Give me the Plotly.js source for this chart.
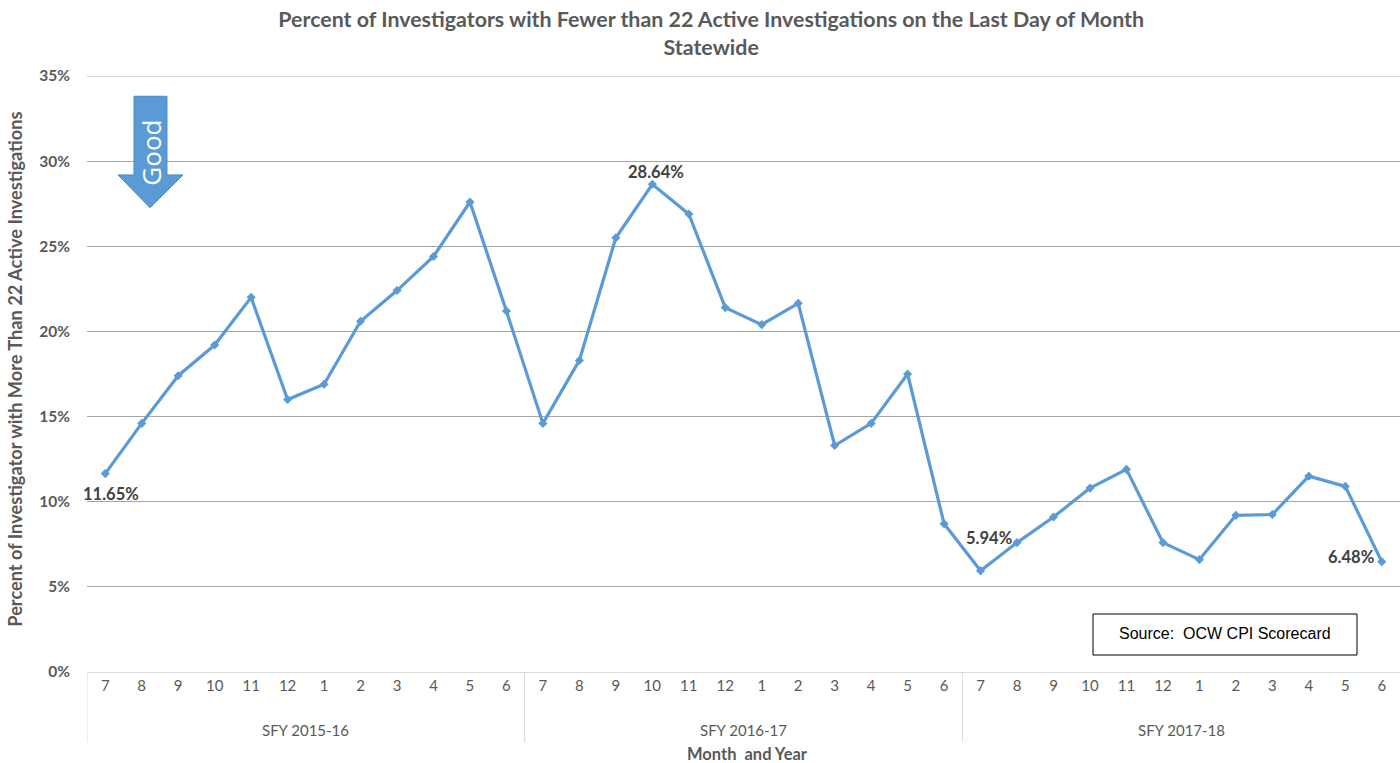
<!DOCTYPE html>
<html>
<head>
<meta charset="utf-8">
<script src="https://cdn.plot.ly/plotly-3.0.1.min.js"></script>
<style>html,body{margin:0;padding:0;background:#fff;}#chart{width:1400px;height:763px;}</style>
</head>
<body>
<div id="chart"></div>
<script>
const monthLabels = ["7","8","9","10","11","12","1","2","3","4","5","6",
                     "7","8","9","10","11","12","1","2","3","4","5","6",
                     "7","8","9","10","11","12","1","2","3","4","5","6"];
const fiscalYears = ["SFY 2015-16", "SFY 2016-17", "SFY 2017-18"];
const percentValues = [11.65, 14.6, 17.4, 19.2, 22.0, 16.0, 16.9, 20.6, 22.4, 24.4, 27.6, 21.2,
                       14.6, 18.3, 25.5, 28.64, 26.9, 21.4, 20.4, 21.65, 13.3, 14.6, 17.5, 8.7,
                       5.94, 7.6, 9.1, 10.8, 11.9, 7.6, 6.6, 9.2, 9.25, 11.5, 10.9, 6.48];
const labelledPoints = [0, 15, 24, 35];
const yTicks = [0, 5, 10, 15, 20, 25, 30, 35];

const xIdx = percentValues.map((_, i) => i);
const font = "Lato, 'Open Sans', sans-serif";
const grey = "#595959";

const annotations = [];
const labelPos = {
  0: {xshift: 6, yshift: -20},
  15: {xshift: 4, yshift: 12},
  24: {xshift: 8, yshift: 33},
  35: {xshift: -31, yshift: 5}
};
labelledPoints.forEach(i => {
  annotations.push({
    x: i, y: percentValues[i], xref: "x", yref: "y",
    text: percentValues[i].toFixed(2) + "%", showarrow: false,
    font: {family: font, size: 16.5, color: "#404040", weight: "bold"},
    xshift: labelPos[i].xshift, yshift: labelPos[i].yshift
  });
});
fiscalYears.forEach((fy, g) => {
  annotations.push({
    x: g * 12 + 5.5, y: -0.097, xref: "x", yref: "paper",
    text: fy, showarrow: false, yanchor: "middle",
    font: {family: font, size: 15, color: grey}
  });
});
annotations.push({
  x: 0.503, y: -0.137, xref: "paper", yref: "paper", text: "Month  and Year",
  showarrow: false, yanchor: "middle", borderpad: 0,
  font: {family: font, size: 16.5, color: grey, weight: "bold"}
});
annotations.push({
  x: -0.0545, y: 0.508, xref: "paper", yref: "paper",
  text: "Percent of Investigator with More Than 22 Active Investigations",
  textangle: -90, showarrow: false, xanchor: "center", yanchor: "middle",
  font: {family: font, size: 18.2, color: grey, weight: "bold"}
});
annotations.push({
  x: 0.049, y: 0.872, xref: "paper", yref: "paper", text: "Good",
  textangle: -90, showarrow: false, xanchor: "center", yanchor: "middle",
  font: {family: "'Open Sans', sans-serif", size: 26, color: "#ffffff"}
});
annotations.push({
  x: 0.867, y: 0.064, xref: "paper", yref: "paper", text: "Source:  OCW CPI Scorecard",
  showarrow: false, xanchor: "center", yanchor: "middle",
  font: {family: "'Liberation Sans', Arial, sans-serif", size: 16, color: "#000"}
});

const shapes = [];
[ -0.5, 11.5, 23.5 ].forEach(b => {
  shapes.push({type: "line", xref: "x", yref: "paper", x0: b, x1: b, y0: 0, y1: -0.118,
    line: {color: "#d9d9d9", width: 1}});
});
shapes.push({type: "line", xref: "paper", yref: "y", x0: 0, x1: 1, y0: 35, y1: 35,
  line: {color: "#a6a6a6", width: 1}, layer: "below"});
shapes.push({
  type: "path", xref: "paper", yref: "paper",
  path: "M 0.0358 0.966 L 0.0609 0.966 L 0.0609 0.834 L 0.0731 0.834 L 0.048 0.779 L 0.0236 0.834 L 0.0358 0.834 Z",
  fillcolor: "#5b9bd5", line: {color: "#4a89c4", width: 1}
});
shapes.push({
  type: "rect", xref: "paper", yref: "paper",
  x0: (1093 - 87) / 1313, x1: (1357 - 87) / 1313, y0: (672 - 655) / 596, y1: (672 - 614) / 596,
  line: {color: "#000", width: 1}, fillcolor: "rgba(0,0,0,0)"
});

const trace = {
  x: xIdx, y: percentValues, type: "scatter", mode: "lines+markers",
  line: {color: "#5b9bd5", width: 3.2},
  marker: {symbol: "diamond", size: 7, color: "#5b9bd5"},
  hoverinfo: "skip", cliponaxis: false
};

const layout = {
  width: 1400, height: 763,
  margin: {l: 87, r: 0, t: 76, b: 91},
  paper_bgcolor: "#fff", plot_bgcolor: "#fff",
  showlegend: false,
  title: {
    text: "Percent of Investigators with Fewer than 22 Active Investigations on the Last Day of Month<br>Statewide",
    x: 0.508, xanchor: "center", y: 0.964, yanchor: "middle",
    font: {family: font, size: 21.4, color: grey, weight: "bold"}
  },
  xaxis: {
    range: [-0.5, 35.5], tickvals: xIdx, ticktext: monthLabels,
    showgrid: false, zeroline: false, showline: true, linecolor: "#d9d9d9", linewidth: 1,
    ticks: "", ticklen: 0, tickfont: {family: font, size: 15, color: grey},
    fixedrange: true
  },
  yaxis: {
    range: [0, 35], tickvals: yTicks, ticktext: yTicks.map(v => v + "%"),
    showgrid: true, gridcolor: "#a6a6a6", gridwidth: 1, zeroline: false, showline: false,
    ticks: "", ticklabelstandoff: 16,
    tickfont: {family: font, size: 15.5, color: grey, weight: "bold"},
    fixedrange: true
  },
  annotations: annotations,
  shapes: shapes
};

Plotly.newPlot("chart", [trace], layout, {displayModeBar: false, staticPlot: true});
</script>
</body>
</html>
